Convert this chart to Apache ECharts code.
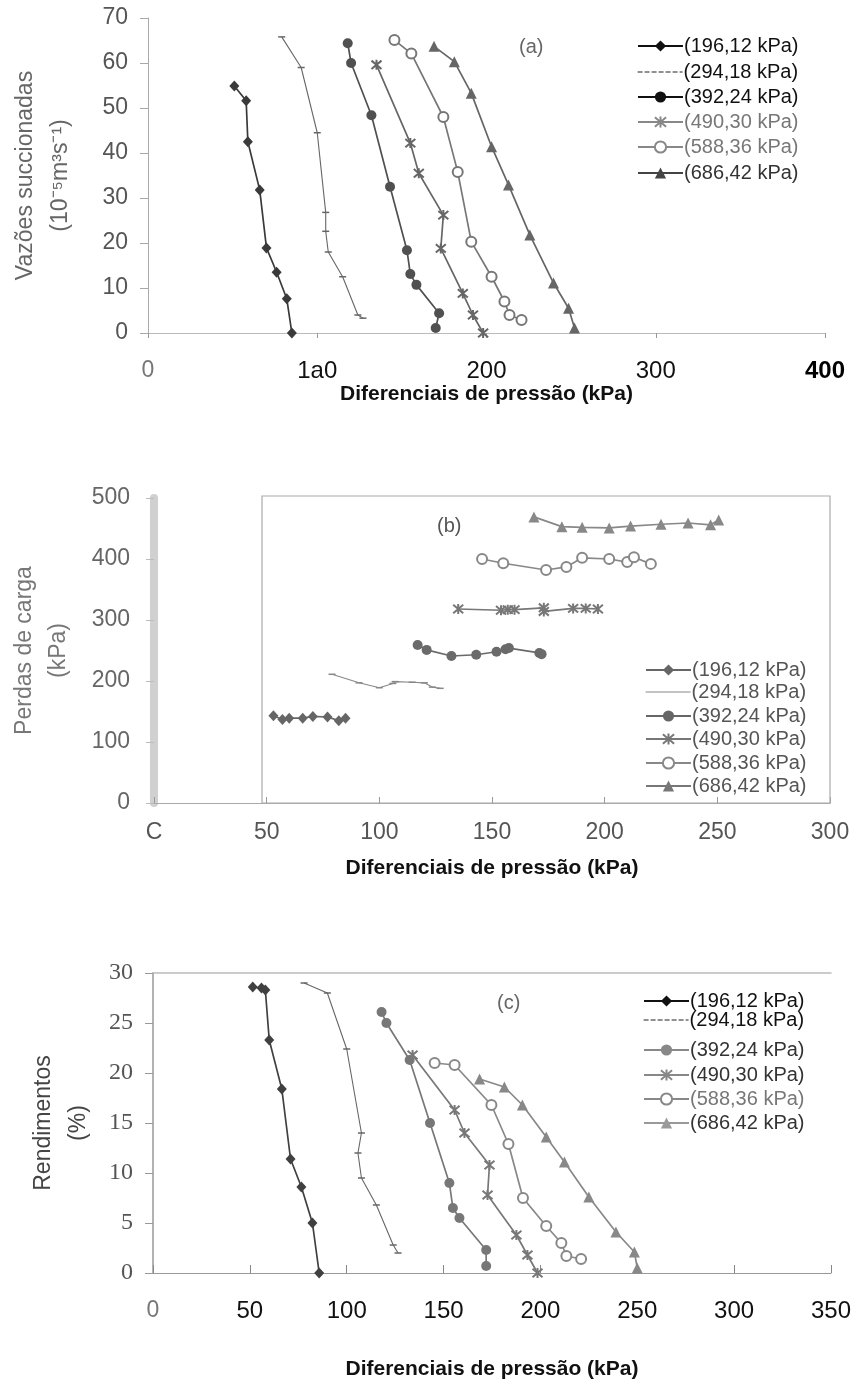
<!DOCTYPE html>
<html><head><meta charset="utf-8">
<script src="https://cdn.jsdelivr.net/npm/echarts@6/dist/echarts.min.js"></script>
<style>html,body{margin:0;padding:0;background:#fff}#c{width:854px;height:1384px}</style>
</head><body><div id="c"></div>
<script>
// ---- names / tick labels ----
const seriesNames = ['(196,12 kPa)','(294,18 kPa)','(392,24 kPa)','(490,30 kPa)','(588,36 kPa)','(686,42 kPa)'];
const aXTicks = ['0','1a0','200','300','400'];
const bXTicks = ['C','50','100','150','200','250','300'];
const cXTicks = ['0','50','100','150','200','250','300','350'];
const xName = 'Diferenciais de pressão (kPa)';
const aYName = 'Vazões succionadas\n(10⁻⁵m³s⁻¹)';
const bYName = 'Perdas de carga\n(kPa)';
const cYName = 'Rendimentos\n(%)';

// ---- panel (a): vazões succionadas vs differential pressure ----
const a196 = [[51,54.9],[58,51.6],[59,42.5],[66,31.8],[70,18.9],[76,13.5],[82,7.6],[85,0]];
const a294 = [[79,65.8],[90.5,59],[100,44.5],[105,26.8],[105,22.6],[106.5,18],[115,12.5],[124,4],[127,3.3]];
const a392 = [[118,64.4],[120,60],[132,48.4],[143,32.5],[153,18.4],[155,13.1],[158.6,10.7],[172,4.4],[170,1.1]];
const a490 = [[135,59.6],[155,42.2],[160,35.5],[174.5,26.2],[173,18.8],[186,8.8],[192,4],[198,0]];
const a588 = [[145.6,65.1],[155.6,62.1],[174.5,48],[183,35.8],[191,20.3],[203,12.5],[210.6,7],[213.6,4],[220.7,2.9]];
const a686 = [[169,63.7],[181,60.3],[191,53.3],[203,41.4],[213,32.9],[225.6,21.8],[239.6,11.1],[248.5,5.5],[252,1.1]];

// ---- panel (b): perdas de carga ----
const b196 = [[53,143],[57,137],[60,139],[66,139],[70.5,142],[77,141],[82,135],[85,139]];
const b294 = [[79,211],[91,197],[100,189],[106,196],[107,199],[114.6,198],[120,197],[123.5,190],[127,188]];
const b392 = [[117,259],[121,251],[132,241],[143,243],[152,248],[156,252],[157.5,254],[171,246],[172,244]];
const b490 = [[135,318],[154,316],[157,317],[160,317],[173,320],[173,314],[186,319],[191.6,319],[197,318]];
const b588 = [[145.6,400],[155,393],[174,382],[183,387],[190,402],[202,400],[210,395],[213,403],[220.5,392]];
const b686 = [[168.6,469],[181,453],[190,452],[202,451],[211.5,454],[225,457],[237,459],[247,456],[250.6,464]];

// ---- panel (c): rendimentos ----
const c196 = [[51.5,28.6],[56,28.5],[58,28.3],[60,23.3],[66.5,18.4],[71,11.4],[76.6,8.6],[82.3,5],[85.8,0]];
const c294 = [[78,29],[90,28],[100,22.4],[107.6,14],[105.8,12],[107.6,9.5],[115.3,6.8],[124,2.8],[126.5,2]];
const c392 = [[118,26.1],[120.5,25],[132.5,21.3],[143,15],[153,9],[154.8,6.5],[158.2,5.5],[172,2.3],[172,0.7]];
const c490 = [[134,21.8],[155.7,16.3],[160.8,14],[173.7,10.8],[172.7,7.8],[187.6,3.8],[193.3,1.8],[198.5,0]];
const c588 = [[145.4,21],[155.7,20.8],[174.7,16.8],[183.5,12.9],[191,7.5],[203,4.7],[210.8,3],[213.4,1.7],[221,1.4]];
const c686 = [[168.6,19.4],[181.4,18.6],[190.7,16.8],[203,13.6],[212.4,11.1],[225,7.6],[239,4.1],[248.5,2.1],[250,0.5]];

const FONT = "'Liberation Sans', Arial, sans-serif";
const SERIF = "'Liberation Serif', 'Times New Roman', serif";
const STAR = 'path://M0,0L10,10M10,0L0,10M5,-1L5,11';

const panelData = [
  [a196,a294,a392,a490,a588,a686],
  [b196,b294,b392,b490,b588,b686],
  [c196,c294,c392,c490,c588,c686]
];
const panelColors = [
  ['#3a3a3a','#666','#505050','#666','#777','#666'],
  ['#666','#888','#6a6a6a','#777','#888','#888'],
  ['#404040','#666','#777','#777','#888','#888']
];

function makeSeries(name, data, gi, kind, col) {
  const s = {
    name, type:'line', data, xAxisIndex:gi, yAxisIndex:gi,
    animation:false, z:3,
    lineStyle:{color:col, width:1.7},
    itemStyle:{color:col}
  };
  if (kind === 0) { s.symbol='diamond'; s.symbolSize=[10,11]; }
  else if (kind === 1) { s.symbol='rect'; s.symbolSize=[7,1.5]; s.lineStyle.width=1.1; }
  else if (kind === 2) { s.symbol='circle'; s.symbolSize=10; }
  else if (kind === 3) { s.symbol=STAR; s.symbolSize=10; s.itemStyle={color:'none', borderColor:col, borderWidth:2}; }
  else if (kind === 4) { s.symbol='emptyCircle'; s.symbolSize=10; s.itemStyle={color:col, borderWidth:1.5}; }
  else { s.symbol='triangle'; s.symbolSize=11; }
  return s;
}

const series = [];
panelData.forEach((arrs, gi) => arrs.forEach((d, k) => series.push(makeSeries(seriesNames[k], d, gi, k, panelColors[gi][k]))));

// legends: one per item, so each row sits where it is in the figure
const legendLefts = [632, 640, 638];
const legendRows = [
  [43,69,94,119,144,170],
  [667,689,713,736,760,783],
  [998,1017,1047,1072,1096,1120]
];
const legendTextColors = [
  ['#111','#111','#111','#777','#777','#333'],
  ['#555','#555','#555','#555','#555','#555'],
  ['#111','#111','#333','#333','#777','#333']
];
const legendIconColors = [
  ['#111','#222','#111','#888','#888','#444'],
  ['#666','#888','#666','#777','#888','#777'],
  ['#111','#222','#888','#888','#888','#999']
];
const legends = [];
legendRows.forEach((rows, gi) => rows.forEach((cy, k) => {
  const ic = legendIconColors[gi][k];
  const item = {name: seriesNames[k], lineStyle:{color:ic, width: k===1 ? 1.2 : 2}};
  if (k === 1) { item.itemStyle = {color:'rgba(0,0,0,0)', borderWidth:0}; if (gi !== 1) item.lineStyle.type = [5,2]; }
  else if (k === 3) item.itemStyle = {color:'none', borderColor:ic, borderWidth:2};
  else if (k === 4) item.itemStyle = {color:ic, borderWidth:1.5};
  else item.itemStyle = {color:ic};
  legends.push({
    data:[item], left:legendLefts[gi], top:cy-12, itemWidth:45, itemHeight:14, itemGap:0,
    selectedMode:false,
    textStyle:{fontFamily:FONT, fontSize:20, color:legendTextColors[gi][k], padding:[0,0,0,-4]}
  });
}));

function xLabel(ticks, step, styleOf) {
  return {
    formatter: v => { const i = Math.round(v/step); const t = ticks[i]; return t === undefined ? '' : '{' + styleOf(i) + '|' + t + '}'; },
    rich: {
      g:{color:'#777', fontSize:23, fontFamily:FONT},
      m:{color:'#555', fontSize:23, fontFamily:FONT},
      k:{color:'#111', fontSize:24, fontFamily:FONT},
      kb:{color:'#000', fontSize:24, fontFamily:FONT, fontWeight:'bold'}
    }
  };
}

const nameStyleX = {fontFamily:FONT, fontSize:21, fontWeight:'bold', color:'#111'};

const option = {
  backgroundColor:'#fff',
  animation:false,
  grid:[
    {left:147, right:29, top:18, height:315},
    {left:154, right:24, top:498, height:305},
    {left:153, right:22, top:973, height:300}
  ],
  xAxis:[
    {gridIndex:0, type:'value', min:0, max:400, interval:100,
     axisLine:{lineStyle:{color:'#bbb'}}, axisTick:{show:true, length:5, lineStyle:{color:'#999'}},
     splitLine:{show:false},
     axisLabel:Object.assign({margin:26}, xLabel(aXTicks, 100, i => i===0?'g':(i===4?'kb':'k'))),
     name:xName, nameLocation:'middle', nameGap:50, nameTextStyle:nameStyleX},
    {gridIndex:1, type:'value', min:0, max:300, interval:50,
     axisLine:{lineStyle:{color:'#aaa'}}, axisTick:{show:true, length:6, inside:true, lineStyle:{color:'#999'}},
     splitLine:{show:false},
     axisLabel:Object.assign({margin:18}, xLabel(bXTicks, 50, () => 'm')),
     name:xName, nameLocation:'middle', nameGap:55, nameTextStyle:nameStyleX},
    {gridIndex:2, type:'value', min:0, max:350, interval:50,
     axisLine:{lineStyle:{color:'#999'}}, axisTick:{show:true, length:8, inside:true, lineStyle:{color:'#888'}},
     splitLine:{show:false},
     axisLabel:Object.assign({margin:26}, xLabel(cXTicks, 50, i => i===0?'g':'k')),
     name:xName, nameLocation:'middle', nameGap:86, nameTextStyle:nameStyleX},
    {gridIndex:2, type:'value', min:0, max:350, position:'top',
     axisLine:{show:true, lineStyle:{color:'#bbb', width:1.5}}, axisTick:{show:false}, axisLabel:{show:false}, splitLine:{show:false}}
  ],
  yAxis:[
    {gridIndex:0, type:'value', min:0, max:70, interval:10,
     axisLine:{show:true, lineStyle:{color:'#aaa'}}, axisTick:{show:true, length:8, lineStyle:{color:'#aaa'}},
     splitLine:{show:false},
     axisLabel:{margin:20, fontFamily:FONT, fontSize:23, color:'#555'},
     name:aYName, nameLocation:'middle', nameRotate:90, nameGap:70,
     nameTextStyle:{fontFamily:FONT, fontSize:23, color:'#666', lineHeight:35}},
    {gridIndex:1, type:'value', min:0, max:500, interval:100,
     axisLine:{show:true, lineStyle:{color:'#d0d0d0', width:8}}, axisTick:{show:true, length:8, lineStyle:{color:'#bbb'}},
     splitLine:{show:false},
     axisLabel:{margin:24, fontFamily:FONT, fontSize:23, color:'#666'},
     name:bYName, nameLocation:'middle', nameRotate:90, nameGap:78,
     nameTextStyle:{fontFamily:FONT, fontSize:23, color:'#777', lineHeight:34}},
    {gridIndex:2, type:'value', min:0, max:30, interval:5,
     axisLine:{show:true, lineStyle:{color:'#999', width:1.5}}, axisTick:{show:true, length:8, lineStyle:{color:'#999'}},
     splitLine:{show:false},
     axisLabel:{margin:20, fontFamily:SERIF, fontSize:24, color:'#555'},
     name:cYName, nameLocation:'middle', nameRotate:90, nameGap:57,
     nameTextStyle:{fontFamily:FONT, fontSize:23, color:'#444', lineHeight:35}}
  ],
  legend:legends,
  graphic:[
    {type:'rect', shape:{x:262, y:496, width:568, height:307}, style:{fill:'none', stroke:'#aaa', lineWidth:1.2}, z:1, silent:true},
    {type:'text', left:519, top:37, style:{text:'(a)', fontFamily:FONT, fontSize:20, fill:'#666'}},
    {type:'text', left:437, top:516, style:{text:'(b)', fontFamily:FONT, fontSize:20, fill:'#555'}},
    {type:'text', left:497, top:993, style:{text:'(c)', fontFamily:FONT, fontSize:20, fill:'#666'}}
  ],
  series
};

const chart = echarts.init(document.getElementById('c'), null, {renderer:'canvas'});
chart.setOption(option);
</script>
</body></html>
